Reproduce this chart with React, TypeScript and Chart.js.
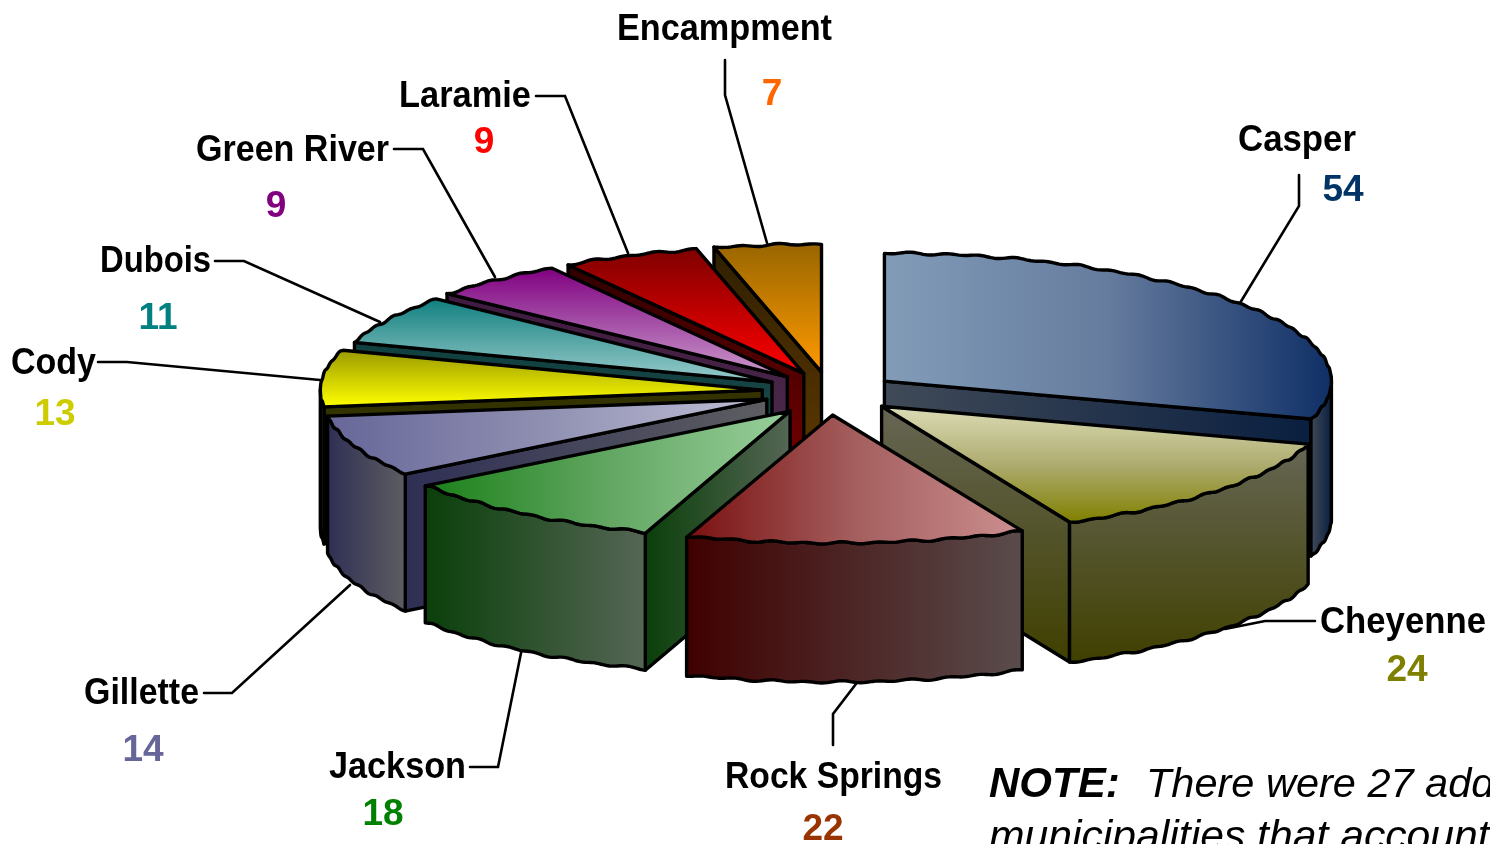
import React, { useEffect, useRef } from "react";
import { Chart, registerables } from "chart.js";

Chart.register(...registerables);

// ---- data ----
const categories = ["Casper", "Cheyenne", "Rock Springs", "Jackson", "Gillette", "Cody", "Dubois", "Green River", "Laramie", "Encampment"];
const counts = [54, 24, 22, 18, 14, 13, 11, 9, 9, 7];
const valueColors = ["#003366", "#808000", "#993300", "#008000", "#666699", "#CCCC00", "#008080", "#800080", "#FF0000", "#FF6600"];

// ---- slice styling: gradient direction, top-face stops, wall stops ----
const gradientAxis = ["h", "v", "h", "h", "h", "v", "v", "v", "v", "v"];
const topFrom = ["#829cb8", "#dcdcb6", "#7a1010", "#1a8018", "#666699", "#999900", "#128080", "#800080", "#800000", "#996600"];
const topMid = ["#667c9e", "#aeac70", "#a45e5e", "#62a662", "#9090b2", "#cccc00", "#58a6a6", "#a44fa6", "#c00000", "#cc8000"];
const topTo = ["#0f2f66", "#808000", "#cc8f8f", "#99d09c", "#c0c0d8", "#ffff00", "#99cccc", "#cc99cc", "#ff0000", "#ff9900"];
const wallFrom = ["#404a58", "#666655", "#400000", "#0a3f0a", "#2f2f55", "#333300", "#104040", "#401a40", "#300000", "#2f1f00"];
const wallTo = ["#0a1f40", "#404000", "#5a4c4c", "#556655", "#5d5d62", "#333300", "#264c4c", "#4f3350", "#800000", "#663d00"];

// ---- per-slice fit of the perspective in the picture ----
const shiftX = [0, 1, 1, 4, 4, 4, 5, 5, 3, 2];
const shiftY = [1, 1, 3, 3, 0, 0, 0, 0, 0, 0];
const radiusAdjust = [0, 0, 4, 0, -4, -5, -7, -1, 0, 0];
const wallDepth = [137, 140, 139, 137, 137, 137, 137, 137, 137, 137];

// ---- label layout ----
const nameBoxes = [
  [1238, 1356, 151], [1320, 1486, 633], [725, 942, 788], [329, 466, 778], [84, 199, 704],
  [11, 96, 374], [100, 211, 272], [196, 389, 161], [399, 531, 107], [617, 832, 40],
];
const valueAnchors = [
  [1343, 201], [1407, 681], [823, 840], [383, 825], [143, 761],
  [55, 425], [158, 329], [276, 217], [484, 153], [772, 105],
];
const leaders = [
  [[1299, 175], [1299, 206], [1240, 303]],
  [[1315, 621], [1265, 621], [1225, 629]],
  [[833, 745], [833, 714], [859, 680]],
  [[470, 767], [498, 767], [522, 648]],
  [[204, 693], [232, 693], [350, 585]],
  [[98, 362], [127, 362], [320, 380]],
  [[215, 261], [244, 261], [380, 322]],
  [[394, 149], [423, 149], [495, 277]],
  [[536, 96], [565, 96], [628, 253]],
  [[725, 60], [725, 95], [767, 243]],
];
const noteBold = "NOTE:";
const noteLine1 = "There were 27 additional";
const noteLine2 = "municipalities that accounted";

// ---- 3D projection ----
const PIE_CX = 828;
const PIE_CY = 392;
const PIE_RX = 447;
const PIE_RY = 128;
const EXPLODE = 70;

const wave = (t: number) => 0.8 * Math.sin(t * 80) + 0.5 * Math.sin(t * 47 + 1);

function linear(ctx: CanvasRenderingContext2D, axis: string, x0: number, y0: number, x1: number, y1: number, stops: string[]) {
  const g = axis === "h" ? ctx.createLinearGradient(x0, 0, x1, 0) : ctx.createLinearGradient(0, y0, 0, y1);
  stops.forEach((c, i) => g.addColorStop(i / (stops.length - 1), c));
  return g;
}

function drawFace(ctx: CanvasRenderingContext2D, pts: number[][], axis: string, c0: string, c1: string) {
  const xs = pts.map((p) => p[0]);
  const ys = pts.map((p) => p[1]);
  ctx.beginPath();
  pts.forEach((p, i) => (i ? ctx.lineTo(p[0], p[1]) : ctx.moveTo(p[0], p[1])));
  ctx.closePath();
  ctx.fillStyle = linear(ctx, axis, Math.min(...xs), Math.min(...ys), Math.max(...xs), Math.max(...ys), [c0, c1]);
  ctx.fill();
  ctx.stroke();
}

const pie3d = {
  id: "pie3d",
  beforeDatasetsDraw(chart: any) {
    const ctx: CanvasRenderingContext2D = chart.ctx;
    ctx.save();
    ctx.strokeStyle = "#000";
    ctx.lineWidth = 2.6;
    ctx.lineCap = "round";
    leaders.forEach((line) => {
      ctx.beginPath();
      line.forEach((p, i) => (i ? ctx.lineTo(p[0], p[1]) : ctx.moveTo(p[0], p[1])));
      ctx.stroke();
    });
    ctx.restore();

    const arcs: any[] = chart.getDatasetMeta(0).data;
    const order = arcs
      .map((a, i) => ({ a, i, mid: (a.startAngle + a.endAngle) / 2 }))
      .sort((p, q) => Math.sin(p.mid) - Math.sin(q.mid));

    order.forEach(({ a: arc, i, mid }) => {
      const { x, y, startAngle: a0, endAngle: a1, outerRadius: R } = arc.getProps(["x", "y", "startAngle", "endAngle", "outerRadius"]);
      const rx = PIE_RX + radiusAdjust[i];
      const depth = wallDepth[i];
      const ax = PIE_CX + Math.cos(mid) * EXPLODE + shiftX[i];
      const ay = PIE_CY + (Math.sin(mid) * EXPLODE * PIE_RY) / PIE_RX + shiftY[i];
      const point = (t: number, dz = 0) => [ax + rx * Math.cos(t), ay + PIE_RY * Math.sin(t) + wave(t) + dz];
      const rim = (from: number, to: number, dz = 0) => {
        const n = Math.max(2, Math.ceil((Math.abs(to - from) * rx) / 3));
        const out: number[][] = [];
        for (let k = 0; k <= n; k++) out.push(point(from + ((to - from) * k) / n, dz));
        return out;
      };

      ctx.save();
      ctx.strokeStyle = "#000";
      ctx.lineWidth = 3.4;
      ctx.lineJoin = "round";

      // walls that face the viewer
      const axis = gradientAxis[i];
      if (Math.cos(a0) < 0) {
        drawFace(ctx, [[ax, ay], point(a0), point(a0, depth), [ax, ay + depth]], axis, wallFrom[i], wallTo[i]);
      }
      if (Math.cos(a1) > 0) {
        drawFace(ctx, [[ax, ay], point(a1), point(a1, depth), [ax, ay + depth]], axis, wallFrom[i], wallTo[i]);
      }
      // curved outer wall: the part of the rim on the near side (also across the 0 angle)
      const TAU = 2 * Math.PI;
      const s = ((a0 % TAU) + TAU) % TAU;
      const e = s + (a1 - a0);
      [0, TAU].forEach((base) => {
        const w0 = Math.max(s, base);
        const w1 = Math.min(e, base + Math.PI);
        if (w1 > w0) {
          drawFace(ctx, [...rim(w0, w1), ...rim(w1, w0, depth)], axis, wallFrom[i], wallTo[i]);
        }
      });

      // top face drawn by the library's own arc element, flattened by the transform
      const sx = rx / R;
      const sy = PIE_RY / R;
      const samples = [[0, 0], [Math.cos(a0), Math.sin(a0)], [Math.cos(a1), Math.sin(a1)]];
      for (let t = -Math.PI; t <= 3 * Math.PI; t += Math.PI / 2) {
        if (t > a0 && t < a1) samples.push([Math.cos(t), Math.sin(t)]);
      }
      const mx = samples.map((c) => c[0] * R);
      const my = samples.map((c) => c[1] * R);
      const grad = linear(ctx, axis, x + Math.min(...mx), y + Math.min(...my), x + Math.max(...mx), y + Math.max(...my), [topFrom[i], topMid[i], topTo[i]]);
      ctx.save();
      ctx.translate(ax, ay);
      ctx.scale(sx, sy);
      ctx.translate(-x, -y);
      arc.options = { ...arc.options, backgroundColor: grad, borderWidth: 0, offset: 0 };
      arc.draw(ctx);
      ctx.restore();

      // outline of the top face
      const top = [[ax, ay], ...rim(a0, a1)];
      ctx.beginPath();
      top.forEach((p, k) => (k ? ctx.lineTo(p[0], p[1]) : ctx.moveTo(p[0], p[1])));
      ctx.closePath();
      ctx.stroke();
      ctx.restore();
    });
    return false;
  },
  afterDraw(chart: any) {
    const ctx: CanvasRenderingContext2D = chart.ctx;
    ctx.save();
    ctx.textBaseline = "alphabetic";
    ctx.textAlign = "left";
    const family = '"Liberation Sans", Arial, sans-serif';
    categories.forEach((name, i) => {
      const [l, r, base] = nameBoxes[i];
      ctx.font = `bold 37px ${family}`;
      const w = ctx.measureText(name).width;
      ctx.save();
      ctx.translate(l, base);
      ctx.scale((r - l) / w, 1);
      ctx.fillStyle = "#000";
      ctx.fillText(name, 0, 0);
      ctx.restore();
    });
    ctx.textAlign = "center";
    ctx.font = `bold 37px ${family}`;
    counts.forEach((v, i) => {
      ctx.fillStyle = valueColors[i];
      ctx.fillText(String(v), valueAnchors[i][0], valueAnchors[i][1]);
    });
    ctx.textAlign = "left";
    ctx.fillStyle = "#000";
    ctx.font = `italic bold 42px ${family}`;
    ctx.fillText(noteBold, 989, 797);
    ctx.font = `italic 41.5px ${family}`;
    ctx.fillText(noteLine1, 1146, 797);
    ctx.font = `italic 42.7px ${family}`;
    ctx.fillText(noteLine2, 989, 850);
    ctx.restore();
  },
};

export default function App() {
  const ref = useRef<HTMLCanvasElement | null>(null);
  useEffect(() => {
    const chart = new Chart(ref.current as HTMLCanvasElement, {
      type: "pie",
      data: {
        labels: categories,
        datasets: [{ data: counts, backgroundColor: topTo, borderWidth: 0 }],
      },
      options: {
        animation: false,
        responsive: false,
        layout: { padding: 0 },
        plugins: { legend: { display: false }, tooltip: { enabled: false } },
      },
      plugins: [pie3d],
    } as any);
    return () => chart.destroy();
  }, []);
  return (
    <canvas
      ref={ref}
      width={1490}
      height={844}
      style={{ position: "fixed", left: 0, top: 0, width: 1490, height: 844, display: "block", background: "#fff" }}
    />
  );
}
